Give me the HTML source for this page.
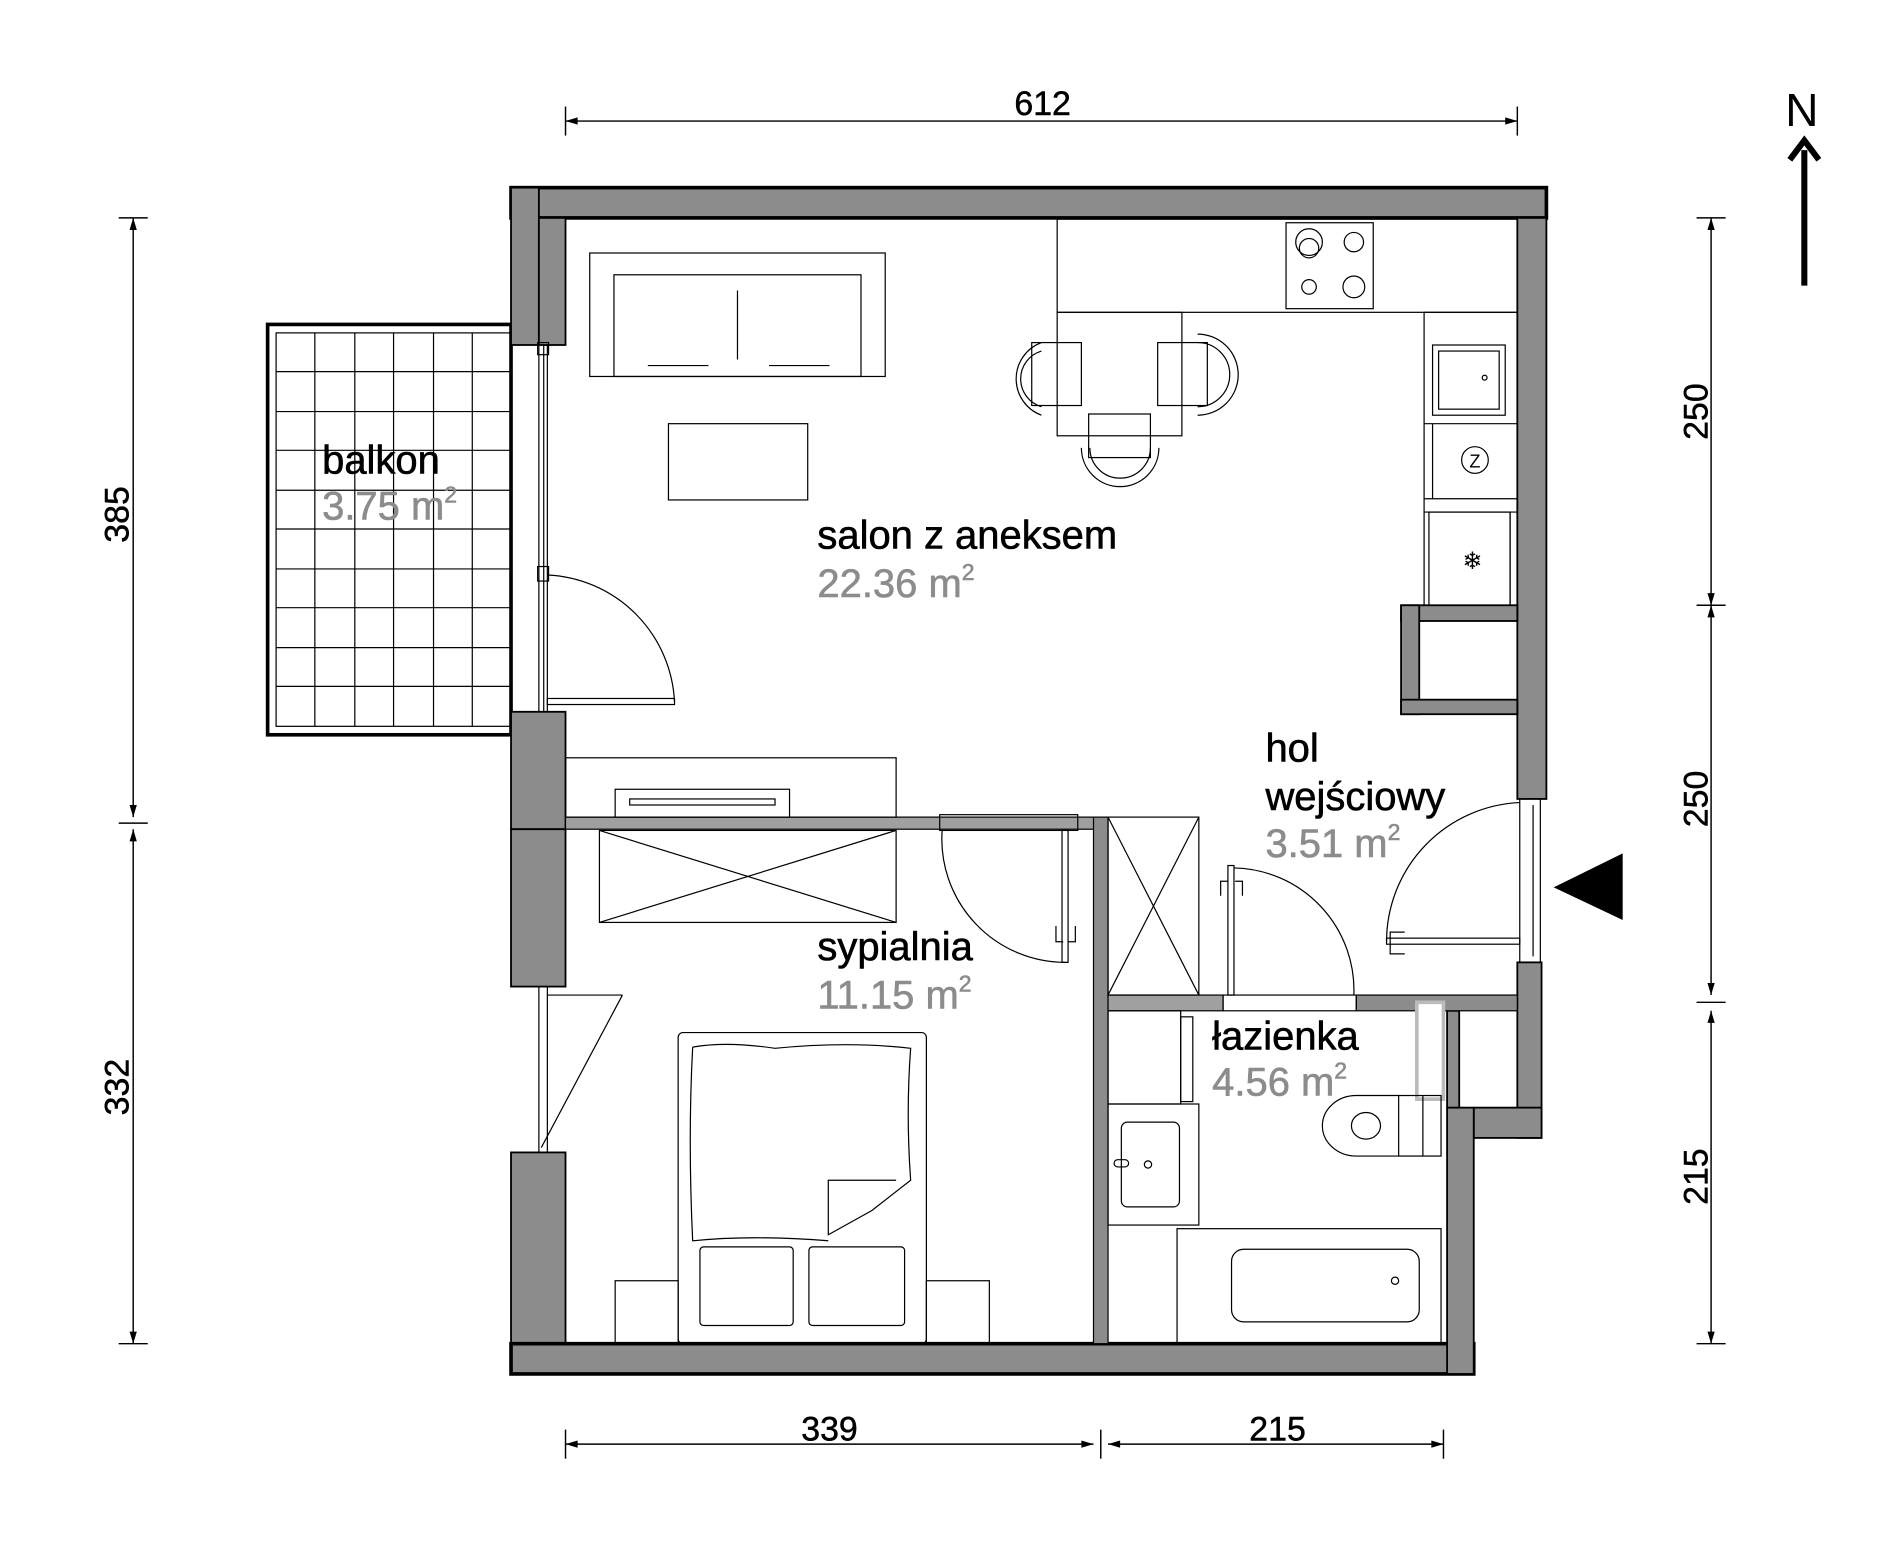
<!DOCTYPE html>
<html><head><meta charset="utf-8"><style>
html,body{margin:0;padding:0;background:#fff;}
svg{display:block;}
text{font-family:"Liberation Sans",sans-serif;}
</style></head><body>
<svg width="1900" height="1541" viewBox="0 0 1569 1273" preserveAspectRatio="none" xmlns="http://www.w3.org/2000/svg">
<defs>
<marker id="a" viewBox="0 0 10 10" refX="10" refY="5" markerWidth="22" markerHeight="10" markerUnits="userSpaceOnUse" orient="auto-start-reverse"><path d="M0,2 L10,5 L0,8 z" fill="#000"/></marker>
</defs>
<g stroke="#000" stroke-width="1.2" fill="none">
<line x1="467" y1="100" x2="1253" y2="100" marker-start="url(#a)" marker-end="url(#a)"/>
<line x1="467" y1="88" x2="467" y2="112"/><line x1="1253" y1="88" x2="1253" y2="112"/>
<line x1="110" y1="180" x2="110" y2="675" marker-start="url(#a)" marker-end="url(#a)"/>
<line x1="110" y1="685" x2="110" y2="1110" marker-start="url(#a)" marker-end="url(#a)"/>
<line x1="98" y1="180" x2="122" y2="180"/><line x1="98" y1="680" x2="122" y2="680"/><line x1="98" y1="1110" x2="122" y2="1110"/>
<line x1="1413" y1="180" x2="1413" y2="500" marker-start="url(#a)" marker-end="url(#a)"/>
<line x1="1413" y1="500" x2="1413" y2="822" marker-start="url(#a)" marker-end="url(#a)"/>
<line x1="1413" y1="835" x2="1413" y2="1110" marker-start="url(#a)" marker-end="url(#a)"/>
<line x1="1401" y1="180" x2="1425" y2="180"/><line x1="1401" y1="500" x2="1425" y2="500"/><line x1="1401" y1="828" x2="1425" y2="828"/><line x1="1401" y1="1110" x2="1425" y2="1110"/>
<line x1="467" y1="1193" x2="903" y2="1193" marker-start="url(#a)" marker-end="url(#a)"/>
<line x1="915" y1="1193" x2="1192" y2="1193" marker-start="url(#a)" marker-end="url(#a)"/>
<line x1="467" y1="1181" x2="467" y2="1205"/><line x1="909" y1="1181" x2="909" y2="1205"/><line x1="1192" y1="1181" x2="1192" y2="1205"/>
</g>
<g font-size="28" fill="#000" stroke="#000" stroke-width="0.4">
<text x="861" y="95" text-anchor="middle">612</text>
<text x="685" y="1190" text-anchor="middle">339</text>
<text x="1055" y="1190" text-anchor="middle">215</text>
<text transform="translate(106,425) rotate(-90)" text-anchor="middle">385</text>
<text transform="translate(106,898) rotate(-90)" text-anchor="middle">332</text>
<text transform="translate(1410,340) rotate(-90)" text-anchor="middle">250</text>
<text transform="translate(1410,660) rotate(-90)" text-anchor="middle">250</text>
<text transform="translate(1410,972) rotate(-90)" text-anchor="middle">215</text>
</g>
<text x="1488" y="104" font-size="38" text-anchor="middle">N</text>
<line x1="1490" y1="124" x2="1490" y2="236" stroke="#000" stroke-width="5"/>
<path d="M1478,132 L1490,116 L1502,132" stroke="#000" stroke-width="5" fill="none"/>
<polygon points="1283,733 1340,705 1340,760" fill="#000"/>
<g stroke="#000" fill="none">
<rect x="221" y="268" width="201" height="339" stroke-width="3"/>
<rect x="228" y="275" width="194" height="325" stroke-width="1"/>
<g stroke-width="1">
<line x1="260" y1="275" x2="260" y2="600"/><line x1="293" y1="275" x2="293" y2="600"/><line x1="325" y1="275" x2="325" y2="600"/><line x1="358" y1="275" x2="358" y2="600"/><line x1="390" y1="275" x2="390" y2="600"/>
<line x1="228" y1="307" x2="422" y2="307"/><line x1="228" y1="340" x2="422" y2="340"/><line x1="228" y1="372" x2="422" y2="372"/><line x1="228" y1="405" x2="422" y2="405"/><line x1="228" y1="437" x2="422" y2="437"/><line x1="228" y1="470" x2="422" y2="470"/><line x1="228" y1="502" x2="422" y2="502"/><line x1="228" y1="535" x2="422" y2="535"/><line x1="228" y1="567" x2="422" y2="567"/>
</g>
</g>
<g fill="#8c8c8c" stroke="#000" stroke-width="1.5">
<rect x="422" y="155" width="855" height="25" stroke-width="3"/>
<rect x="422" y="155" width="23" height="130"/>
<rect x="445" y="180" width="22" height="105"/>
<rect x="422" y="588" width="45" height="97"/>
<rect x="422" y="685" width="45" height="130"/>
<rect x="422" y="952" width="45" height="183"/>
<rect x="422" y="1110" width="795" height="25" stroke-width="3"/>
<rect x="1253" y="180" width="24" height="480"/>
<rect x="1253" y="795" width="20" height="145"/>
<rect x="1217" y="915" width="56" height="25"/>
<rect x="1195" y="915" width="22" height="220"/>
<rect x="1195" y="835" width="10" height="80"/>
<rect x="467" y="675" width="438" height="10" fill="#a0a0a0" stroke-width="1"/>
<rect x="903" y="675" width="12" height="435" stroke-width="1"/>
<rect x="915" y="822" width="95" height="13" fill="#a0a0a0" stroke-width="1"/>
<rect x="1120" y="822" width="133" height="13" stroke-width="1"/>
<rect x="1157" y="500" width="96" height="13"/>
<rect x="1157" y="500" width="15" height="90"/>
<rect x="1157" y="578" width="96" height="12"/>
</g>
<rect x="1170" y="828" width="22" height="80" fill="#fff" stroke="#bbb" stroke-width="3"/>
<g stroke="#000" stroke-width="1" fill="none">
<line x1="445" y1="285" x2="445" y2="588"/><line x1="452" y1="285" x2="452" y2="588"/><line x1="449" y1="285" x2="449" y2="588"/>
<rect x="444" y="283" width="9" height="10"/><rect x="444" y="468" width="9" height="12"/>
<line x1="445" y1="815" x2="445" y2="952"/><line x1="452" y1="815" x2="452" y2="952"/>
<line x1="1255" y1="660" x2="1255" y2="795"/><line x1="1266" y1="665" x2="1266" y2="790"/><line x1="1272" y1="660" x2="1272" y2="795"/>
<rect x="452" y="577" width="105" height="5"/>
<path d="M557,580 A110,110 0 0 0 452,475"/>
<line x1="452" y1="822" x2="514" y2="822"/><line x1="514" y1="822" x2="447" y2="948"/>
<rect x="776" y="673" width="114" height="13"/>
<rect x="877" y="686" width="5" height="109"/>
<path d="M778,686 A102,102 0 0 0 880,795"/>
<path d="M872,765 v13 h6 M888,765 v13 h-6"/>
<rect x="1010" y="822" width="110" height="13"/>
<rect x="1014" y="715" width="5" height="107"/>
<path d="M1019,717 A101,101 0 0 1 1118,822"/>
<path d="M1008,740 v-12 h6 M1026,740 v-12 h-6"/>
<rect x="1145" y="775" width="110" height="5"/>
<path d="M1145,778 A115,115 0 0 1 1255,663"/>
<path d="M1160,770 h-12 v18 h12"/>
<rect x="487" y="209" width="244" height="102"/>
<rect x="507" y="227" width="204" height="84"/>
<line x1="609" y1="240" x2="609" y2="297"/>
<line x1="535" y1="302" x2="585" y2="302"/><line x1="635" y1="302" x2="685" y2="302"/>
<rect x="552" y="350" width="115" height="63"/>
<rect x="873" y="181" width="380" height="77"/>
<rect x="1062" y="184" width="72" height="71"/>
<circle cx="1081" cy="200" r="11"/><circle cx="1081" cy="205" r="8"/><circle cx="1118" cy="200" r="8"/><circle cx="1081" cy="237" r="6"/><circle cx="1118" cy="237" r="9"/>
<rect x="1176" y="258" width="77" height="242"/>
<rect x="1183" y="285" width="60" height="58"/><rect x="1188" y="290" width="50" height="48"/><circle cx="1226" cy="312" r="2"/>
<line x1="1176" y1="350" x2="1253" y2="350"/><line x1="1176" y1="412" x2="1253" y2="412"/><line x1="1176" y1="423" x2="1253" y2="423"/>
<line x1="1183" y1="350" x2="1183" y2="412"/>
<circle cx="1218" cy="380" r="11"/>
<rect x="1180" y="423" width="67" height="77"/><line x1="1247" y1="423" x2="1247" y2="500"/>
<rect x="873" y="258" width="103" height="102"/>
<rect x="852" y="283" width="41" height="52"/>
<path d="M860,283 A32,32 0 0 0 860,343 M860,290 A24,24 0 0 0 860,336"/>
<rect x="956" y="283" width="41" height="52"/>
<path d="M989,276 A32,32 0 0 1 989,343 M989,283 A25,25 0 0 1 989,336"/>
<rect x="899" y="342" width="51" height="36"/>
<path d="M893,370 A32,32 0 0 0 957,370 M900,370 A25,25 0 0 0 950,370"/>
<rect x="467" y="626" width="273" height="49"/>
<rect x="508" y="652" width="144" height="23"/><rect x="520" y="660" width="120" height="5"/>
<rect x="495" y="686" width="245" height="76"/>
<line x1="495" y1="686" x2="740" y2="762"/><line x1="740" y1="686" x2="495" y2="762"/>
<rect x="915" y="675" width="75" height="147"/>
<line x1="915" y1="675" x2="990" y2="822"/><line x1="990" y1="675" x2="915" y2="822"/>
<rect x="560" y="853" width="205" height="257" rx="4"/>
<path d="M572,865 Q600,860 640,866 Q700,860 752,866 Q748,920 752,975 L720,1000 L684,1020 L684,975 L740,975 M572,865 Q568,940 572,1025 Q620,1020 684,1025"/>
<rect x="578" y="1030" width="77" height="65" rx="3"/><rect x="668" y="1030" width="79" height="65" rx="3"/>
<rect x="508" y="1058" width="52" height="52"/><rect x="765" y="1058" width="52" height="52"/>
<rect x="915" y="835" width="60" height="77"/><rect x="975" y="840" width="10" height="70"/>
<rect x="915" y="912" width="75" height="100"/>
<rect x="926" y="927" width="48" height="70" rx="5"/>
<circle cx="948" cy="962" r="3"/><rect x="920" y="958" width="12" height="6" rx="3"/>
<rect x="972" y="1015" width="218" height="95"/>
<rect x="1017" y="1032" width="155" height="60" rx="10"/>
<circle cx="1152" cy="1058" r="3"/>
<rect x="1155" y="905" width="35" height="50"/><line x1="1175" y1="905" x2="1175" y2="955"/>
<path d="M1155,905 L1120,905 A28,25 0 0 0 1120,955 L1155,955"/>
<ellipse cx="1128" cy="930" rx="12" ry="11"/>
</g>
<text x="1218" y="386" font-size="15" text-anchor="middle">Z</text>
<text x="1216" y="470" font-size="20" text-anchor="middle">❄</text>
<g font-size="33" stroke-width="0.5">
<text x="266" y="391" fill="#000" stroke="#000">balkon</text>
<text x="266" y="429" fill="#8c8c8c" stroke="#8c8c8c">3.75 m<tspan font-size="19" dy="-14">2</tspan></text>
<text x="675" y="453" fill="#000" stroke="#000">salon z aneksem</text>
<text x="675" y="493" fill="#8c8c8c" stroke="#8c8c8c">22.36 m<tspan font-size="19" dy="-14">2</tspan></text>
<text x="1045" y="629" fill="#000" stroke="#000">hol</text>
<text x="1045" y="669" fill="#000" stroke="#000">wejściowy</text>
<text x="1045" y="708" fill="#8c8c8c" stroke="#8c8c8c">3.51 m<tspan font-size="19" dy="-14">2</tspan></text>
<text x="675" y="793" fill="#000" stroke="#000">sypialnia</text>
<text x="675" y="833" fill="#8c8c8c" stroke="#8c8c8c">11.15 m<tspan font-size="19" dy="-14">2</tspan></text>
<text x="1001" y="867" fill="#000" stroke="#000">łazienka</text>
<text x="1001" y="905" fill="#8c8c8c" stroke="#8c8c8c">4.56 m<tspan font-size="19" dy="-14">2</tspan></text>
</g>
</svg>
</body></html>
